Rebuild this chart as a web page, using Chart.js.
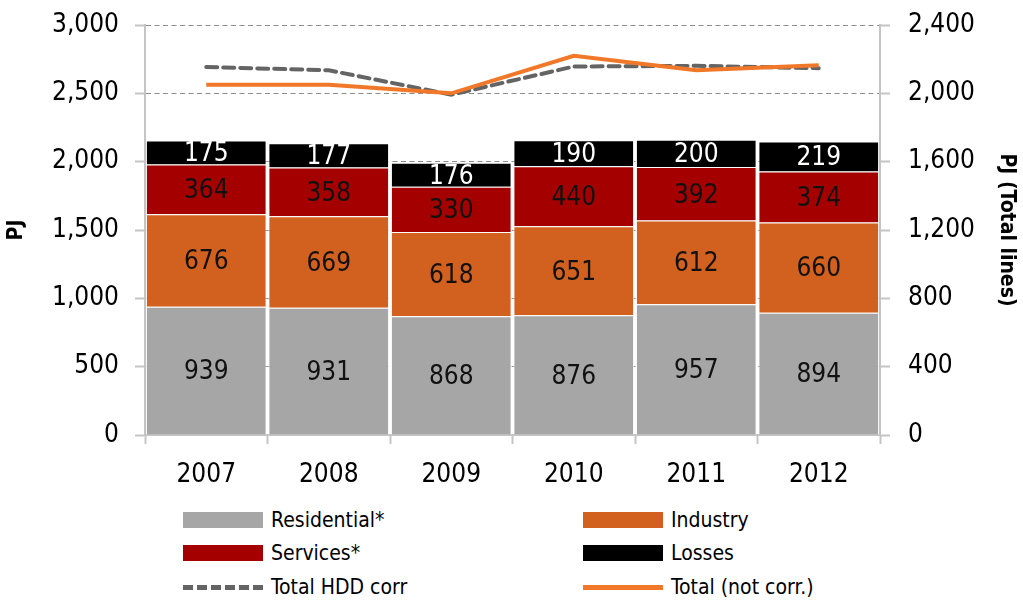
<!DOCTYPE html>
<html lang="en">
<head>
<meta charset="utf-8" />
<title>PJ by sector</title>
<style>
    body { margin: 0; background: #fff; font-family: "DejaVu Sans Condensed", "Open Sans", sans-serif; }
    .wrap { position: relative; width: 1023px; height: 605px; }
    #chart { position: absolute; left: 0; top: 0; }
    .legend { position: absolute; left: 0; top: 505px; width: 1023px; }
    .item { position: absolute; height: 30px; display: flex; align-items: center; font-size: 21px; color: #000; }
    .sw { width: 80px; height: 16px; margin-right: 8px; box-sizing: border-box; }
</style>
</head>
<body>
<div class="wrap">
    <canvas id="chart" width="1023" height="495"></canvas>
    <div class="legend" id="legend"></div>
</div>
<script src="https://cdn.jsdelivr.net/npm/chart.js@4.4.1/dist/chart.umd.min.js"></script>
<script>
    const years = ['2007', '2008', '2009', '2010', '2011', '2012'];
    const residential = [939, 931, 868, 876, 957, 894];
    const industry = [676, 669, 618, 651, 612, 660];
    const services = [364, 358, 330, 440, 392, 374];
    const losses = [175, 177, 176, 190, 200, 219];
    const totalHdd = [2154, 2135, 1992, 2157, 2161, 2147];
    const totalNotCorr = [2050, 2050, 2000, 2220, 2135, 2165];

    const FONT = '"DejaVu Sans Condensed", "Open Sans", sans-serif';
    const AXIS = '#c4c4c4';

    // values written in the middle of each bar segment
    const barLabels = {
        id: 'barLabels',
        afterDatasetsDraw(chart) {
            const ctx = chart.ctx;
            ctx.save();
            ctx.font = '26px ' + FONT;
            ctx.textAlign = 'center';
            ctx.textBaseline = 'middle';
            chart.data.datasets.forEach((ds, i) => {
                if (ds.type === 'line') return;
                const meta = chart.getDatasetMeta(i);
                meta.data.forEach((bar, j) => {
                    ctx.fillStyle = ds.labelColor;
                    ctx.fillText(ds.data[j], bar.x, (bar.y + bar.base) / 2 + 2);
                });
            });
            ctx.restore();
        }
    };

    const bar = (label, data, color, labelColor) => ({
        type: 'bar', label, data, labelColor,
        backgroundColor: color,
        borderColor: 'rgba(255,255,255,0.85)',
        borderWidth: 1,
        categoryPercentage: 1,
        barPercentage: 0.985,
        yAxisID: 'y',
        order: 2
    });

    const datasets = [
        bar('Residential*', residential, '#a6a6a6', '#111'),
        bar('Industry', industry, '#d2601e', '#111'),
        bar('Services*', services, '#a50000', '#111'),
        bar('Losses', losses, '#000000', '#ffffff'),
        {
            type: 'line', label: 'Total HDD corr', data: totalHdd,
            borderColor: '#646464', borderWidth: 4, borderDash: [11, 6],
            borderCapStyle: 'round',
            pointRadius: 0, fill: false, yAxisID: 'y1', order: 1
        },
        {
            type: 'line', label: 'Total (not corr.)', data: totalNotCorr,
            borderColor: '#f07828', borderWidth: 4,
            pointRadius: 0, fill: false, yAxisID: 'y1', order: 0
        }
    ];

    // fixed axis boxes so the plot area sits where the original has it
    const fixY = w => s => { s.width = w; s.paddingTop = 0; s.paddingBottom = 0; };

    new Chart(document.getElementById('chart'), {
        data: { labels: years, datasets },
        plugins: [barLabels],
        options: {
            responsive: false,
            animation: false,
            layout: { padding: { top: 25, left: 0, right: 0, bottom: 0 } },
            plugins: { legend: { display: false }, tooltip: { enabled: false } },
            scales: {
                x: {
                    stacked: true,
                    grid: { display: true, drawOnChartArea: false, offset: true, tickLength: 9, tickColor: AXIS, tickWidth: 2 },
                    border: { color: AXIS, width: 2 },
                    ticks: { color: '#000', font: { family: FONT, size: 26 }, padding: 16 },
                    afterFit(s) { s.height = 60; s.paddingLeft = 0; s.paddingRight = 0; }
                },
                y: {
                    stacked: true, position: 'left', min: 0, max: 3000,
                    ticks: {
                        stepSize: 500, color: '#000', padding: 16,
                        font: { family: FONT, size: 26 },
                        callback: v => v.toLocaleString('en-US')
                    },
                    grid: { color: '#8c8c8c', tickColor: AXIS, tickLength: 10, tickWidth: 2 },
                    border: { color: AXIS, width: 2, dash: [5, 3.5] },
                    title: { display: true, text: 'PJ', color: '#000', font: { family: FONT, size: 21, weight: 'bold' } },
                    afterFit: fixY(145)
                },
                y1: {
                    stacked: false, position: 'right', min: 0, max: 2400,
                    ticks: {
                        stepSize: 400, color: '#000', padding: 18,
                        font: { family: FONT, size: 26 },
                        callback: v => v.toLocaleString('en-US')
                    },
                    grid: { drawOnChartArea: false, tickColor: AXIS, tickLength: 10, tickWidth: 2 },
                    border: { color: AXIS, width: 2 },
                    title: { display: true, text: 'PJ (Total lines)', color: '#000', font: { family: FONT, size: 21, weight: 'bold' } },
                    afterFit: fixY(143)
                }
            }
        }
    });

    // two-column legend under the chart
    const legend = document.getElementById('legend');
    const spots = [[183, 0], [583, 0], [183, 33], [583, 33], [183, 67], [583, 67]];
    datasets.forEach((ds, i) => {
        const item = document.createElement('div');
        item.className = 'item';
        item.style.left = spots[i][0] + 'px';
        item.style.top = spots[i][1] + 'px';
        const sw = document.createElement('span');
        sw.className = 'sw';
        if (ds.type === 'line') {
            sw.style.height = '0';
            sw.style.borderTop = ds.borderDash ? '5px dashed ' + ds.borderColor : '5px solid ' + ds.borderColor;
        } else {
            sw.style.background = ds.backgroundColor;
        }
        item.appendChild(sw);
        item.appendChild(document.createTextNode(ds.label));
        legend.appendChild(item);
    });
</script>
</body>
</html>
